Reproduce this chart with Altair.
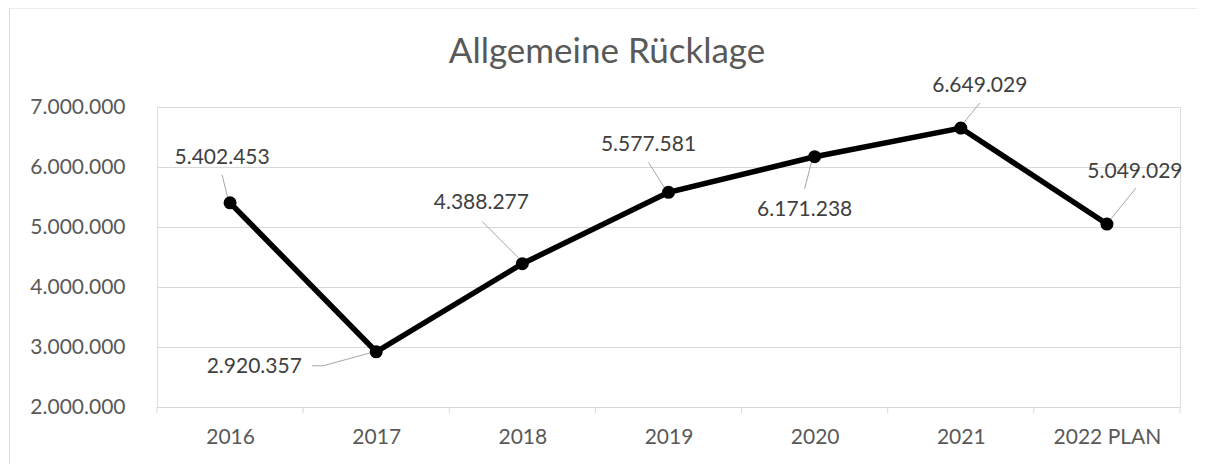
import json
import altair as alt
import pandas as pd

# ---- data ----
years = ["2016", "2017", "2018", "2019", "2020", "2021", "2022 PLAN"]
values = [5402453, 2920357, 4388277, 5577581, 6171238, 6649029, 5049029]
y_ticks = [2000000, 3000000, 4000000, 5000000, 6000000, 7000000]
title_text = "Allgemeine Rücklage"

# ---- label placement (pixel offsets from each point, styling only) ----
label_offsets = [(-8, -45), (-122, 15), (-41, -61), (-20, -47), (-10, 53), (19, -42), (28, -52)]
leader_segments = [
    [(-8, -28, -2, -4)],
    [(-64, 14, -53, 14), (-53, 14, -2, 0)],
    [(-40, -42, -4, -6)],
    [(-20, -30, -3, -3)],
    [(-10, 32, -2, 1)],
    [(19, -25, 1, -3)],
    [(29, -36, 3, -4)],
]

W, H = 1023, 300
FONT = "Lato"
AX_COL = "#595959"
LBL_COL = "#404040"
GRID = "#d9d9d9"

df = pd.DataFrame({"idx": list(range(len(years))), "year": years, "value": values})
bounds_df = pd.DataFrame({"b": [i - 0.5 for i in range(len(years) + 1)]})

x_scale = alt.Scale(domain=[-0.5, len(years) - 0.5], nice=False, zero=False)
y_scale = alt.Scale(domain=[y_ticks[0], y_ticks[-1]], nice=False, zero=False)

label_expr = json.dumps(years) + "[round(datum.value)]"

x_enc = alt.X(
    "idx:Q",
    scale=x_scale,
    axis=alt.Axis(
        values=list(range(len(years))),
        labelExpr=label_expr,
        ticks=False,
        grid=False,
        domain=True,
        domainColor=GRID,
        domainWidth=1,
        labelFont=FONT,
        labelFontSize=21,
        labelColor=AX_COL,
        labelPadding=19,
        title=None,
    ),
)
y_enc = alt.Y(
    "value:Q",
    scale=y_scale,
    axis=alt.Axis(
        values=y_ticks,
        labelExpr="format(datum.value, ',d')",
        grid=True,
        gridColor=GRID,
        gridWidth=1,
        domain=False,
        ticks=False,
        labelFont=FONT,
        labelFontSize=21,
        labelColor=AX_COL,
        labelPadding=32,
        title=None,
    ),
)

base = alt.Chart(df)

line = base.mark_line(color="black", strokeWidth=5.5).encode(x=x_enc, y=y_enc)
pts = base.mark_point(filled=True, color="black", size=170, opacity=1).encode(x="idx:Q", y="value:Q")

ticks = alt.Chart(bounds_df).mark_rule(color=GRID, strokeWidth=1).encode(
    x=alt.X("b:Q", scale=x_scale), y=alt.value(H), y2=alt.value(H + 6)
)

layers = []
for i, (dx, dy) in enumerate(label_offsets):
    layers.append(
        base.transform_filter(alt.datum.idx == i)
        .mark_text(dx=dx, dy=dy, font=FONT, fontSize=21, color=LBL_COL, baseline="middle", align="center")
        .encode(x="idx:Q", y="value:Q", text=alt.Text("value:Q", format=",d"))
    )
    for (x1, y1, x2, y2) in leader_segments[i]:
        layers.append(
            base.transform_filter(alt.datum.idx == i)
            .mark_rule(color="#a6a6a6", strokeWidth=1, xOffset=x1, yOffset=y1, x2Offset=x2, y2Offset=y2)
            .encode(x="idx:Q", x2="idx", y="value:Q", y2="value")
        )

one = pd.DataFrame({"t": [title_text]})
frame = alt.Chart(one).mark_rect(fill=None, stroke=GRID, strokeWidth=1).encode(
    x=alt.value(-147.5), x2=alt.value(W + 200), y=alt.value(-99), y2=alt.value(H + 200)
)
title = alt.Chart(one).mark_text(
    font=FONT, fontSize=35, color=AX_COL, align="center", baseline="alphabetic"
).encode(x=alt.value(450), y=alt.value(-44), text="t:N")

chart = (
    alt.layer(frame, ticks, line, *layers, pts, title)
    .properties(
        width=W,
        height=H,
        autosize=alt.AutoSizeParams(type="none"),
        padding={"left": 149, "top": 99, "right": 17, "bottom": 57},
        background="white",
    )
    .configure_view(stroke=None)
    .configure(locale={"number": {"decimal": ",", "thousands": ".", "grouping": [3], "currency": ["", " €"]}})
)

chart.save("out.html", embed_options={"renderer": "svg", "actions": False})
